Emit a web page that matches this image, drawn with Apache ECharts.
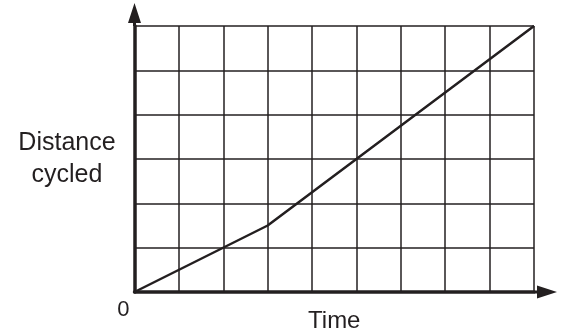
<!DOCTYPE html>
<html>
<head>
<meta charset="utf-8">
<style>html,body{margin:0;padding:0;background:#fff;}#c{width:564px;height:335px;}</style>
<script src="https://cdn.jsdelivr.net/npm/echarts@6/dist/echarts.min.js"></script>
</head>
<body>
<div id="c"></div>
<script>
// Data (grid units: 9 columns of time, 6 rows of distance)
const timeValues = [0, 3, 9];
const distanceValues = [0, 1.5, 6];
const xRange = [0, 9];
const yRange = [0, 6];
const xName = 'Time';
const yName = 'Distance\ncycled';
const originLabel = '0';

const ink = '#231f20';
const arrowPath = 'path://M6.5,0 L13,20 L8,20 L8,23 L5,23 L5,20 L0,20 Z';
const chart = echarts.init(document.getElementById('c'), null, {renderer: 'canvas'});
chart.setOption({
  animation: false,
  backgroundColor: '#fff',
  grid: {left: 134.5, right: 30, top: 26, bottom: 43, containLabel: false, outerBoundsMode: 'none'},
  xAxis: {
    type: 'value', min: xRange[0], max: xRange[1], interval: 1,
    name: xName, nameLocation: 'middle', nameGap: 17, nameMoveOverlap: false,
    nameTextStyle: {fontFamily: 'Liberation Sans, Arial', fontSize: 24, color: ink},
    axisLine: {show: true, lineStyle: {color: ink, width: 3.5}, symbol: ['none', arrowPath], symbolSize: [13, 23], symbolOffset: [0, 11.5]},
    axisTick: {show: false},
    axisLabel: {show: true, margin: 7, fontFamily: 'Liberation Sans, Arial', fontSize: 22, color: ink,
      formatter: v => (v === 0 ? originLabel : ''), align: 'right', padding: [0, 5, 0, 0]},
    splitLine: {show: true, lineStyle: {color: ink, width: 1.5}}
  },
  yAxis: {
    type: 'value', min: yRange[0], max: yRange[1], interval: 1,
    name: yName, nameLocation: 'middle', nameGap: 67.5, nameRotate: 0, nameMoveOverlap: false,
    nameTextStyle: {fontFamily: 'Liberation Sans, Arial', fontSize: 25, lineHeight: 32, color: ink, align: 'center', padding: [0, 0, 5, 0]},
    axisLine: {show: true, lineStyle: {color: ink, width: 3.5}, symbol: ['none', arrowPath], symbolSize: [13, 23], symbolOffset: [0, 11.5]},
    axisTick: {show: false},
    axisLabel: {show: false},
    splitLine: {show: true, lineStyle: {color: ink, width: 1.5}}
  },
  series: [{
    type: 'line',
    data: timeValues.map((t, i) => [t, distanceValues[i]]),
    symbol: 'none',
    lineStyle: {color: ink, width: 2.5},
    z: 5
  }]
});
</script>
</body>
</html>
